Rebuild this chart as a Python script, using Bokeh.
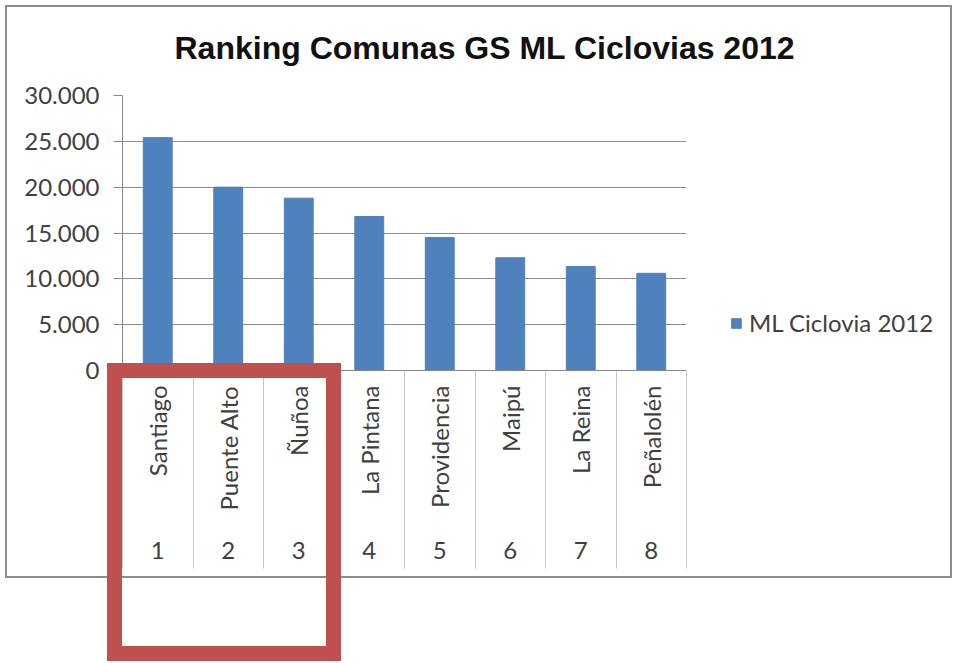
import math
from bokeh.plotting import figure
from bokeh.models import (FactorRange, Range1d, LinearAxis, FixedTicker,
                          CustomJSTickFormatter, Legend, ColumnDataSource, InlineStyleSheet)
from bokeh.embed import file_html
from bokeh.resources import INLINE

# ---- data ----
comunas = ["Santiago", "Puente Alto", "Ñuñoa", "La Pintana", "Providencia",
           "Maipú", "La Reina", "Peñalolén"]
ranking = ["1", "2", "3", "4", "5", "6", "7", "8"]
ml_ciclovia = [25400, 20000, 18800, 16800, 14500, 12300, 11350, 10600]
y_ticks = [0, 5000, 10000, 15000, 20000, 25000, 30000]
series_name = "ML Ciclovia 2012"
title_text = "Ranking Comunas GS ML Ciclovias 2012"

LABEL_COLOR = "#404040"
AXIS_COLOR = "#868686"

source = ColumnDataSource(dict(comuna=comunas, valor=ml_ciclovia))

p = figure(x_range=FactorRange(*comunas), y_range=Range1d(0, y_ticks[-1]),
           frame_width=564, frame_height=275,
           min_border_left=122, min_border_right=267,
           min_border_top=95, min_border_bottom=293,
           title=title_text,
           output_backend="svg", toolbar_location=None)
p.outline_line_color = None
p.background_fill_color = "white"
p.border_fill_color = "white"

# title
p.title.align = "left"
p.title.vertical_align = "top"
p.title.offset = 52
p.title.standoff = 55
p.title.text_font = "Liberation Sans"
p.title.text_font_size = "32px"
p.title.text_font_style = "bold"
p.title.text_color = "#111111"

r = p.vbar(x="comuna", top="valor", width=0.41, source=source,
           fill_color="#4f81bd", line_color="#4f81bd")

# y axis
yax = p.yaxis[0]
yax.ticker = FixedTicker(ticks=y_ticks)
yax.formatter = CustomJSTickFormatter(
    code="return Math.round(tick).toString().replace(/\\B(?=(\\d{3})+(?!\\d))/g, '.');")
yax.major_tick_out = 9
yax.major_tick_in = 0
yax.minor_tick_line_color = None
yax.axis_line_color = AXIS_COLOR
yax.major_tick_line_color = AXIS_COLOR
yax.major_label_standoff = 14
yax.major_label_text_font = "Lato"
yax.major_label_text_font_size = "24px"
yax.major_label_text_color = LABEL_COLOR

p.ygrid.grid_line_color = "#8c8c8c"
p.xgrid.grid_line_color = None

# x axis: names
xax = p.xaxis[0]
xax.major_label_orientation = math.pi / 2
xax.major_tick_out = 0
xax.major_tick_in = 0
xax.major_tick_line_color = None
xax.axis_line_color = AXIS_COLOR
xax.major_label_standoff = 15
xax.major_label_text_font = "Lato"
xax.major_label_text_font_size = "24px"
xax.major_label_text_color = LABEL_COLOR

# x axis: ranking numbers + table separators
n = len(comunas)
rank_axis = LinearAxis(
    ticker=FixedTicker(ticks=[i + 0.5 for i in range(n)],
                       minor_ticks=[float(i) for i in range(n + 1)]),
    formatter=CustomJSTickFormatter(args=dict(ranks=ranking),
                                    code="return ranks[Math.floor(tick)];"),
    axis_line_color=None,
    major_tick_line_color=None, major_tick_out=0, major_tick_in=0,
    minor_tick_line_color="#c4c4c4", minor_tick_in=142, minor_tick_out=55,
    major_label_standoff=-27,
    major_label_text_font="Lato", major_label_text_font_size="24px",
    major_label_text_color=LABEL_COLOR)
p.add_layout(rank_axis, "below")

# legend
legend = Legend(items=[(series_name, [r])], location=(44, 33),
                border_line_color=None, background_fill_alpha=0,
                padding=0, margin=0, glyph_width=12, glyph_height=12,
                label_standoff=7, label_text_font="Lato",
                label_text_font_size="24px", label_text_color=LABEL_COLOR)
p.add_layout(legend, "right")

# chart border and red highlight box (page decorations)
p.stylesheets = [InlineStyleSheet(css="""
:host { position: relative; }
:host::before {
  content: ""; position: absolute; left: 5px; top: 5px; width: 947px; height: 573px;
  box-sizing: border-box; border: 2px solid #8c8c8c;
  pointer-events: none; z-index: 1;
}
:host::after {
  content: ""; position: absolute; left: 107px; top: 363px; width: 234px; height: 298px;
  box-sizing: border-box; border: 15px solid #c0504d; pointer-events: none; z-index: 2;
}
""")]

open("out.html", "w").write(file_html(p, INLINE))
